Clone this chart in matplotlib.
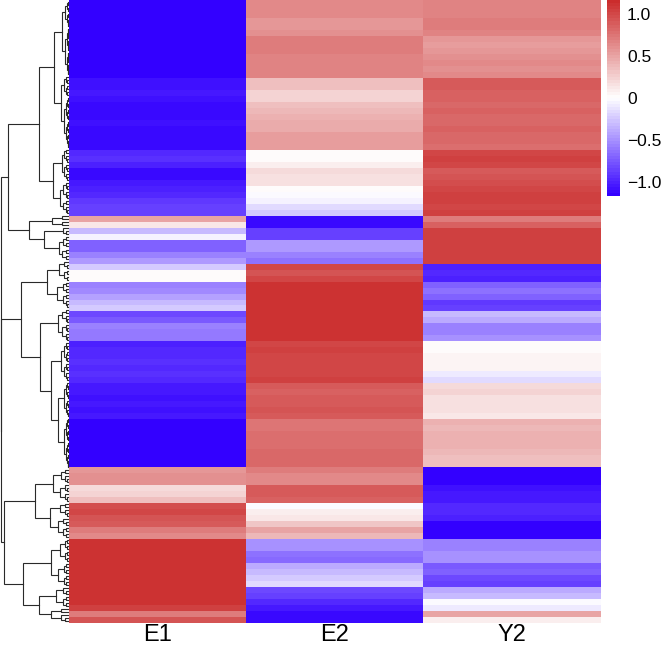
import matplotlib
matplotlib.use('Agg')
import matplotlib.pyplot as plt
import matplotlib.colors as mcol
import numpy as np

plt.rcParams['font.family'] = 'Liberation Sans'

samples = ['E1', 'E2', 'Y2']

e1 = [-1.15, -1.15, -1.15, -1.15, -1.15, -1.15, -1.15, -1.15, -1.15, -1.15, -1.15, -1.15, -1.15,
      -1.08, -1.07, -1.05, -1.08, -1.10, -1.12, -1.10, -1.08, -1.10, -1.12, -1.10, -1.12,
      -0.95, -0.92, -1.00, -1.10, -1.12, -1.05, -1.00, -0.95, -0.90, -0.85, -0.85,
      0.50, 0.12, -0.30, -0.05, -0.72, -0.70, -0.58, -0.45, -0.22, 0.02, 0.03,
      -0.55, -0.52, -0.42, -0.30, -0.25, -0.80, -0.75, -0.55, -0.60, -0.60,
      -1.00, -0.95, -0.95, -0.92, -0.95, -0.92, -0.95,
      -1.05, -1.05, -1.08, -1.05, -1.08, -1.05,
      -1.14, -1.14, -1.14, -1.14, -1.14, -1.14, -1.14, -1.14,
      0.55, 0.58, 0.60, 0.20, 0.25, 0.33, 0.95, 0.98, 0.92, 0.90, 0.72, 0.62,
      1.12, 1.12, 1.12, 1.12, 1.12, 1.10, 1.12, 1.12, 1.10, 1.12, 1.10, 1.05, 0.70, 0.92]

e2 = [0.65, 0.65, 0.62, 0.57, 0.57, 0.58, 0.72, 0.72, 0.72, 0.68, 0.68, 0.67, 0.66,
      0.36, 0.33, 0.25, 0.25, 0.36, 0.38, 0.42, 0.46, 0.46, 0.52, 0.54, 0.54,
      0.03, 0.03, 0.10, 0.20, 0.18, 0.16, 0.03, -0.02, -0.07, -0.15, -0.25,
      -1.12, -1.10, -0.85, -0.85, -0.45, -0.47, -0.55, -0.65, 0.98, 0.92, 0.98,
      1.10, 1.12, 1.12, 1.10, 1.12, 1.12, 1.12, 1.10, 1.12, 1.10,
      1.00, 1.02, 1.00, 0.98, 1.00, 0.98, 1.02,
      0.88, 0.85, 0.88, 0.90, 0.92, 0.90,
      0.76, 0.75, 0.77, 0.78, 0.78, 0.80, 0.80, 0.82,
      0.70, 0.65, 0.62, 0.90, 0.88, 0.85, -0.03, 0.08, 0.12, 0.30, 0.50, 0.38,
      -0.50, -0.50, -0.62, -0.68, -0.38, -0.32, -0.25, -0.15, -0.80, -0.85, -0.95, -1.05, -1.12, -1.10]

y2 = [0.66, 0.66, 0.67, 0.70, 0.70, 0.68, 0.55, 0.52, 0.55, 0.60, 0.62, 0.60, 0.62,
      0.88, 0.88, 0.85, 0.85, 0.82, 0.85, 0.82, 0.80, 0.85, 0.82, 0.80, 0.78,
      1.00, 1.02, 0.98, 0.90, 0.92, 0.95, 1.00, 1.02, 1.05, 1.00, 1.05,
      0.72, 0.85, 1.05, 1.05, 1.05, 1.05, 1.05, 1.05, -1.00, -0.95, -1.00,
      -0.70, -0.62, -0.72, -0.90, -0.85, -0.30, -0.38, -0.55, -0.58, -0.48,
      0.00, 0.03, 0.06, 0.07, 0.05, -0.10, -0.15,
      0.20, 0.22, 0.18, 0.17, 0.15, 0.14,
      0.40, 0.38, 0.40, 0.42, 0.40, 0.38, 0.35, 0.33,
      -1.13, -1.13, -1.13, -1.08, -1.05, -1.05, -0.95, -0.95, -1.00, -1.13, -1.13, -1.13,
      -0.55, -0.58, -0.50, -0.48, -0.75, -0.72, -0.80, -0.85, -0.38, -0.32, -0.03, -0.08, 0.50, 0.08]

cbar_ticks = [1.0, 0.5, 0, -0.5, -1.0]
cbar_labels = ['1.0', '0.5', '0', '\u22120.5', '\u22121.0']

# dendrogram, (merge position, left, right), (merge position, n) is a small cluster of n leaves
tree = (0.5,
        (8, (38.5, (54, (62, (65, 9), (65, 16)), (61, (64, 7), (64, 17))),
             (53, (62, (64, 5), (64, 6)), (60, (63, 6), (63, 5)))),
         (28.5, (52, 4), (44, (63, 3), (59, (63, 4), (62, 4))))),
        (1.2,
         (21, (47, (59, 7), (57, (63, 4), (63, 5))),
          (40, (58, (62, 5), (62, 6)),
           (50.5, (61, (64, 7), (64, 6)), (58, (64, 12), (64, 17))))),
         (3.5,
          (35, (53, (61, 5), (60, 6)), (49.5, (60, 5), (58, (63, 3), (63, 4)))),
          (23, (50.5, (60, 8), (58, 8)), (38.5, (56, 7), (51, (61, 2), (61, 3)))))))

EDGE = 68


def expand(node, pos, ax):
    # returns x and y of the node, pos is the running leaf counter
    x = node[0]
    if len(node) == 2:
        n = node[1]
        if n == 1:
            pos[0] += 1
            return EDGE, pos[0] - 0.5
        step = x + (EDGE - x) * 0.6
        left = (step, n // 2)
        right = (step, n - n // 2)
    else:
        left = node[1]
        right = node[2]
    x1, y1 = expand(left, pos, ax)
    x2, y2_ = expand(right, pos, ax)
    ax.plot([x1, x, x, x2], [y1, y1, y2_, y2_], color='#2a2a2a', lw=0.8,
            solid_joinstyle='miter', clip_on=False)
    return x, (y1 + y2_) / 2


W, H = 661.0, 647.0


def px_axes(x0, y0, x1, y1):
    return fig.add_axes([x0 / W, 1 - y1 / H, (x1 - x0) / W, (y1 - y0) / H])


fig = plt.figure(figsize=(6.61, 6.47), dpi=100)

values = np.column_stack([e1, e2, y2])

cmap = mcol.LinearSegmentedColormap.from_list('bwr2', ['#3300FF', '#FFFFFF', '#CB2C2C'], N=64)
norm = mcol.Normalize(vmin=-1.16, vmax=1.16)

ax = px_axes(69, 0, 601, 623)
im = ax.imshow(values, aspect='auto', cmap=cmap, norm=norm, interpolation='nearest')
ax.set_xticks(range(len(samples)))
ax.set_xticklabels(samples, fontsize=17)
ax.set_yticks([])
ax.tick_params(axis='x', length=0, pad=1)
for s in ax.spines.values():
    s.set_visible(False)

# dendrogram
dax = px_axes(0, 0, 69, 623)
pos = [0]
expand(tree, pos, dax)
dax.set_xlim(0, 69)
dax.set_ylim(pos[0], 0)
dax.axis('off')

# colour bar
cax = px_axes(607, 0, 620, 196)
cb = fig.colorbar(im, cax=cax)
cb.set_ticks(cbar_ticks)
cb.set_ticklabels(cbar_labels)
cb.ax.tick_params(length=0, labelsize=12.5, pad=5)
cb.outline.set_visible(False)

fig.savefig('out.png', dpi=100)
